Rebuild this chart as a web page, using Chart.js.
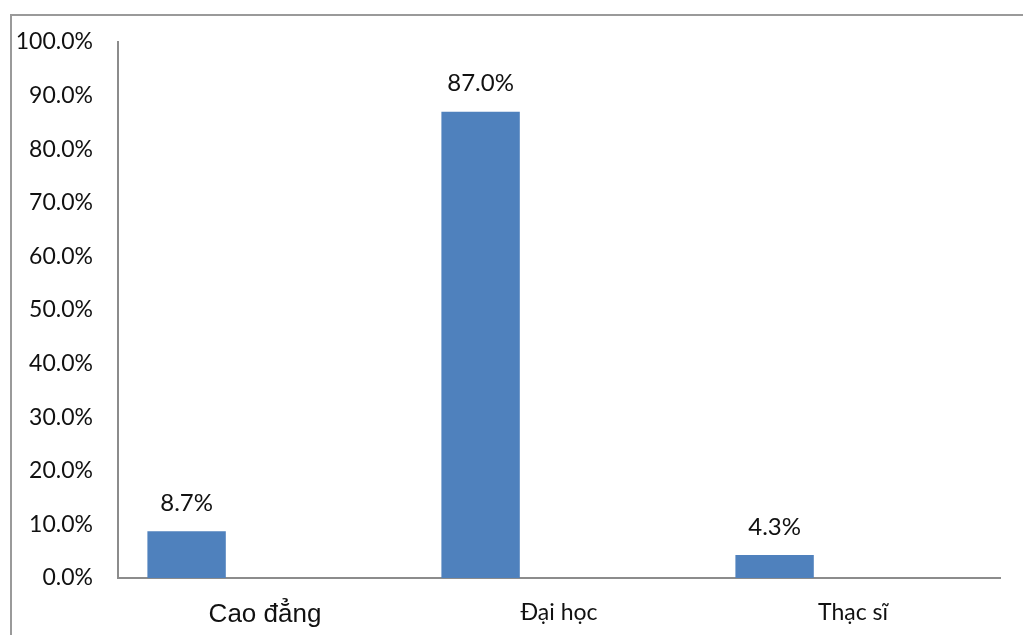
<!DOCTYPE html>
<html>
<head>
<meta charset="utf-8">
<script src="https://cdn.jsdelivr.net/npm/chart.js@4/dist/chart.umd.min.js"></script>
<style>
  html, body { margin: 0; padding: 0; background: #fff; }
  #wrap { width: 1023px; height: 635px; position: relative; }
</style>
</head>
<body>
<div id="wrap"><canvas id="chart"></canvas></div>
<script>
const categories = ["Cao đẳng", "Đại học", "Thạc sĩ"];
const shares = [8.7, 87.0, 4.3];
const emptySlot = [null, null, null];
const yTicks = [0, 10, 20, 30, 40, 50, 60, 70, 80, 90, 100];

const barColor = "#4F81BD";
const textFont = "Lato, 'Noto Sans', sans-serif";

// frame around the chart area (only top and left show in the picture)
const framePlugin = {
  id: "frame",
  beforeDraw(chart) {
    const ctx = chart.ctx;
    ctx.save();
    ctx.strokeStyle = "#9a9a9a";
    ctx.lineWidth = 2;
    ctx.beginPath();
    ctx.moveTo(11, 640);
    ctx.lineTo(11, 15);
    ctx.lineTo(1030, 15);
    ctx.stroke();
    ctx.restore();
  },
};

// value labels above the bars
const valueLabels = {
  id: "valueLabels",
  afterDatasetsDraw(chart) {
    const ctx = chart.ctx;
    const meta = chart.getDatasetMeta(0);
    ctx.save();
    ctx.fillStyle = "#111";
    ctx.font = "24px " + textFont;
    ctx.textAlign = "center";
    ctx.textBaseline = "middle";
    meta.data.forEach((bar, i) => {
      const v = chart.data.datasets[0].data[i];
      if (v == null) return;
      ctx.fillText(v.toFixed(1) + "%", bar.x, bar.y - 28);
    });
    ctx.restore();
  },
};

new Chart(document.getElementById("chart"), {
  type: "bar",
  data: {
    labels: categories,
    datasets: [
      { data: shares, backgroundColor: barColor },
      { data: emptySlot, backgroundColor: barColor },
      { data: emptySlot, backgroundColor: barColor },
    ],
  },
  options: {
    responsive: true,
    maintainAspectRatio: false,
    animation: false,
    categoryPercentage: 0.8,
    barPercentage: 1.0,
    layout: { padding: { top: 42, right: 23, left: 0, bottom: 0 } },
    plugins: {
      legend: { display: false },
      tooltip: { enabled: false },
    },
    scales: {
      x: {
        grid: { display: false },
        border: { display: true, color: "#8c8c8c", width: 2 },
        ticks: {
          color: "#111",
          padding: 13,
          font: (c) =>
            c.index === 0
              ? { family: "'Liberation Sans', Arial, sans-serif", size: 26 }
              : { family: textFont, size: 23 },
        },
        afterFit: (s) => { s.height = 57; },
      },
      y: {
        min: 0,
        max: 100,
        afterBuildTicks: (s) => { s.ticks = yTicks.map((v) => ({ value: v })); },
        grid: { display: false },
        border: { display: true, color: "#8c8c8c", width: 2 },
        ticks: {
          color: "#111",
          padding: 17,
          font: { family: textFont, size: 23 },
          callback: (v) => v.toFixed(1) + "%",
        },
        afterFit: (s) => { s.width = 118; },
      },
    },
  },
  plugins: [framePlugin, valueLabels],
});
</script>
</body>
</html>
